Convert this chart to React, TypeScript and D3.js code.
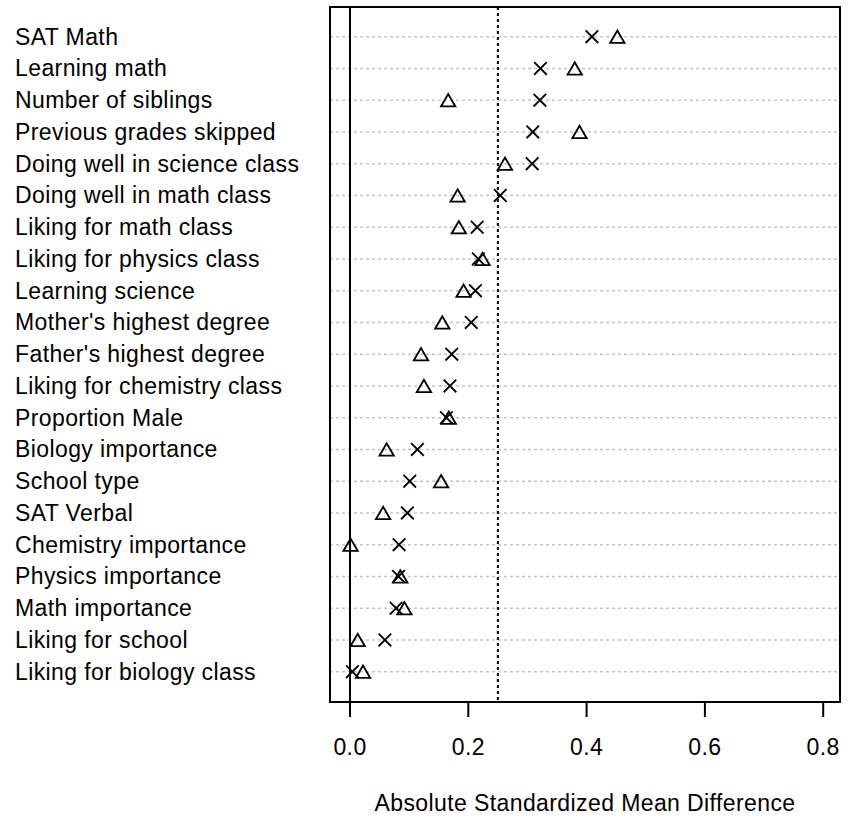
import React from "react";
import * as d3 from "d3";

const covariates = [
  "SAT Math",
  "Learning math",
  "Number of siblings",
  "Previous grades skipped",
  "Doing well in science class",
  "Doing well in math class",
  "Liking for math class",
  "Liking for physics class",
  "Learning science",
  "Mother's highest degree",
  "Father's highest degree",
  "Liking for chemistry class",
  "Proportion Male",
  "Biology importance",
  "School type",
  "SAT Verbal",
  "Chemistry importance",
  "Physics importance",
  "Math importance",
  "Liking for school",
  "Liking for biology class",
];

// open triangles
const triangleValues = [
  0.452, 0.38, 0.166, 0.388, 0.262, 0.182, 0.184, 0.224, 0.192, 0.156, 0.12,
  0.125, 0.167, 0.062, 0.154, 0.056, 0.001, 0.085, 0.092, 0.013, 0.022,
];

// crosses
const crossValues = [
  0.409, 0.322, 0.321, 0.309, 0.308, 0.254, 0.215, 0.217, 0.212, 0.205, 0.172,
  0.169, 0.163, 0.114, 0.101, 0.097, 0.083, 0.082, 0.078, 0.059, 0.004,
];

const xTicks = [0, 0.2, 0.4, 0.6, 0.8];
const xTickLabels = ["0.0", "0.2", "0.4", "0.6", "0.8"];
const referenceLine = 0.25;
const xTitle = "Absolute Standardized Mean Difference";

export default function App() {
  const W = 856;
  const H = 818;
  const box = { left: 330, right: 840, top: 7, bottom: 702 };
  const x = d3.scaleLinear().domain([0, 0.8]).range([350, 823.2]);
  const y = d3.scalePoint<string>().domain(covariates).range([36.7, 671.7]);
  const font = "'Liberation Sans', Arial, sans-serif";

  const tri = (cx: number, cy: number) => {
    const s = 7.2;
    const h = 12.5;
    return `M${cx - s},${cy + h / 2} L${cx + s},${cy + h / 2} L${cx},${cy - h / 2} Z`;
  };
  const cross = (cx: number, cy: number) => {
    const s = 6.3;
    return `M${cx - s},${cy - s} L${cx + s},${cy + s} M${cx - s},${cy + s} L${cx + s},${cy - s}`;
  };

  return (
    <svg
      width={W}
      height={H}
      style={{ position: "absolute", left: 0, top: 0, background: "#fff" }}
      fontFamily={font}
    >
      <rect x={0} y={0} width={W} height={H} fill="#fff" />
      {/* grid lines */}
      {covariates.map((c) => (
        <line
          key={"g" + c}
          x1={box.left}
          x2={box.right}
          y1={y(c)}
          y2={y(c)}
          stroke="#c4c4c4"
          strokeWidth={1.5}
          strokeDasharray="3,3"
        />
      ))}
      {/* zero line */}
      <line x1={x(0)} x2={x(0)} y1={box.top} y2={box.bottom} stroke="#000" strokeWidth={2} />
      {/* reference line */}
      <line
        x1={x(referenceLine)}
        x2={x(referenceLine)}
        y1={box.top}
        y2={box.bottom}
        stroke="#000"
        strokeWidth={2}
        strokeDasharray="3,3"
      />
      {/* points */}
      {covariates.map((c, i) => (
        <g key={"p" + c}>
          <path d={cross(x(crossValues[i]), y(c)!)} stroke="#000" strokeWidth={1.8} fill="none" />
          <path d={tri(x(triangleValues[i]), y(c)!)} stroke="#000" strokeWidth={1.8} fill="none" />
        </g>
      ))}
      {/* box */}
      <rect
        x={box.left}
        y={box.top}
        width={box.right - box.left}
        height={box.bottom - box.top}
        fill="none"
        stroke="#000"
        strokeWidth={2}
      />
      {/* y labels */}
      {covariates.map((c) => (
        <text key={"l" + c} x={15} y={y(c)! + 8} fontSize={23} letterSpacing={0.4} fill="#000">
          {c}
        </text>
      ))}
      {/* x axis */}
      {xTicks.map((t, i) => (
        <g key={"t" + t}>
          <line x1={x(t)} x2={x(t)} y1={box.bottom} y2={box.bottom + 15} stroke="#000" strokeWidth={2} />
          <text x={x(t)} y={755} textAnchor="middle" fontSize={23} letterSpacing={0.4} fill="#000">
            {xTickLabels[i]}
          </text>
        </g>
      ))}
      <text
        x={(box.left + box.right) / 2}
        y={811}
        textAnchor="middle"
        fontSize={23}
        letterSpacing={0.4}
        fill="#000"
      >
        {xTitle}
      </text>
    </svg>
  );
}
